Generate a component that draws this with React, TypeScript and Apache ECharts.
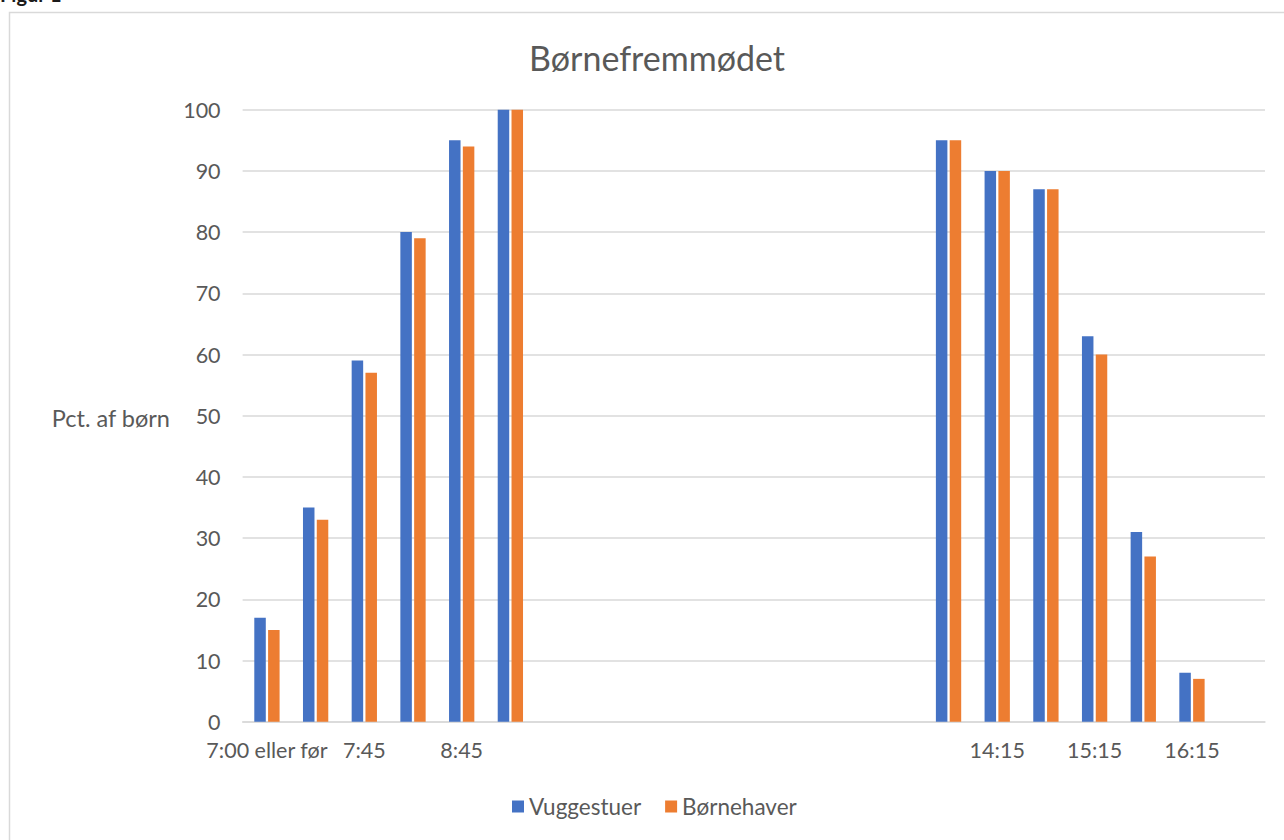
import React, { useEffect, useRef } from "react";
import * as echarts from "echarts";

const categories = [
  "7:00 eller før", "7:15", "7:45", "8:15", "8:45", "9:15", "9:45", "10:15", "10:45",
  "11:15", "11:45", "12:15", "12:45", "13:15", "13:45", "14:15", "14:45", "15:15",
  "15:45", "16:15", "16:45",
];
const shownLabels = ["7:00 eller før", "7:45", "8:45", "14:15", "15:15", "16:15"];
const vuggestuer = [17, 35, 59, 80, 95, 100, null, null, null, null, null, null, null, null, 95, 90, 87, 63, 31, 8, null];
const boernehaver = [15, 33, 57, 79, 94, 100, null, null, null, null, null, null, null, null, 95, 90, 87, 60, 27, 7, null];
const yTicks = { min: 0, max: 100, interval: 10 };

const FONT = "Lato";
const TXT = "#595959";

export default function App() {
  const ref = useRef<HTMLDivElement>(null);
  useEffect(() => {
    const chart = echarts.init(ref.current!, null, { renderer: "svg" });
    chart.setOption({
      animation: false,
      backgroundColor: "#ffffff",
      textStyle: { fontFamily: FONT },
      title: {
        text: "Børnefremmødet",
        left: 652,
        textAlign: "center",
        top: 35,
        textStyle: { fontFamily: FONT, fontSize: 34, fontWeight: "normal", color: TXT },
      },
      graphic: [
        {
          type: "rect",
          shape: { x: 9.5, y: 12.5, width: 1400, height: 1000 },
          style: { fill: "none", stroke: "#d9d9d9", lineWidth: 1.5 },
          silent: true,
        },
        {
          type: "text",
          x: 0,
          y: 4,
          style: {
            text: "Figur 1",
            fontFamily: FONT,
            fontSize: 20,
            fontWeight: "bold",
            fill: "#1a1a1a",
            textVerticalAlign: "bottom",
          },
        },
        {
          type: "text",
          x: 170,
          y: 418,
          style: {
            text: "Pct. af børn",
            fontFamily: FONT,
            fontSize: 23.5,
            fill: TXT,
            textAlign: "right",
            textVerticalAlign: "middle",
          },
        },
      ],
      legend: {
        top: 790,
        left: 507,
        itemWidth: 12,
        itemHeight: 12,
        itemGap: 24,
        icon: "rect",
        textStyle: { fontFamily: FONT, fontSize: 22.5, color: TXT },
        data: ["Vuggestuer", "Børnehaver"],
      },
      grid: { left: 242.6, right: 19, top: 109.7, bottom: 118.3, containLabel: false },
      xAxis: {
        type: "category",
        data: categories,
        axisLine: { lineStyle: { color: "#d9d9d9", width: 1.5 } },
        axisTick: { show: false },
        axisLabel: {
          interval: (i: number, v: string) => shownLabels.includes(v),
          fontFamily: FONT,
          fontSize: 21.5,
          color: TXT,
          margin: 17,
        },
      },
      yAxis: {
        type: "value",
        min: yTicks.min,
        max: yTicks.max,
        interval: yTicks.interval,
        axisLine: { show: false },
        axisTick: { show: false },
        splitLine: { lineStyle: { color: "#d9d9d9", width: 1.5 } },
        axisLabel: { fontFamily: FONT, fontSize: 21.5, color: TXT, margin: 22 },
      },
      series: [
        {
          name: "Vuggestuer",
          type: "bar",
          data: vuggestuer,
          barWidth: 11.5,
          barGap: "20%",
          itemStyle: { color: "#4472C4" },
        },
        {
          name: "Børnehaver",
          type: "bar",
          data: boernehaver,
          barWidth: 11.5,
          itemStyle: { color: "#ED7D31" },
        },
      ],
    });
    return () => chart.dispose();
  }, []);
  return (
    <div
      ref={ref}
      style={{ position: "absolute", left: 0, top: 0, width: 1284, height: 840 }}
    />
  );
}
